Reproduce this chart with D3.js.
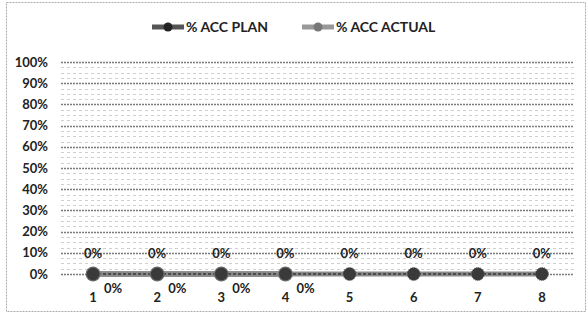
<!DOCTYPE html>
<html>
<head>
<meta charset="utf-8">
<script src="https://cdn.jsdelivr.net/npm/d3@7"></script>
<style>
  body { margin: 0; background: #fff; }
  text { font-family: Lato, "Open Sans", sans-serif; font-weight: bold; fill: #222; }
</style>
</head>
<body>
<div class="chart"></div>
<script>
// Chart data
var months = ["1", "2", "3", "4", "5", "6", "7", "8"];
var accPlan = [0, 0, 0, 0, 0, 0, 0, 0];
var accActual = [0, 0, 0, 0];
var yTicks = [0, 0.1, 0.2, 0.3, 0.4, 0.5, 0.6, 0.7, 0.8, 0.9, 1.0];
var seriesNames = ["% ACC PLAN", "% ACC ACTUAL"];

var svgWidth = 588;
var svgHeight = 314;
var margin = { top: 62, right: 14, bottom: 40, left: 61 };
var width = svgWidth - margin.left - margin.right;
var height = svgHeight - margin.top - margin.bottom;

var svg = d3.select(".chart")
  .append("svg")
  .attr("width", svgWidth)
  .attr("height", svgHeight);

// Outer frame (scanned border)
svg.append("rect")
  .attr("x", 6.5).attr("y", 2.5)
  .attr("width", 579).attr("height", 309)
  .attr("fill", "none")
  .attr("stroke", "#aaa")
  .attr("stroke-dasharray", "2,1");

var chartGroup = svg.append("g")
  .attr("transform", `translate(${margin.left}, ${margin.top})`);

var xScale = d3.scaleBand().domain(months).range([0, width]);
var yScale = d3.scaleLinear().domain([0, 1]).range([height, 0]);
var xPos = d => xScale(d) + xScale.bandwidth() / 2;
var pct = d3.format(".0%");

// Faint texture lines between gridlines (scan noise)
var minor = d3.range(0, 100, 2.5).map(v => v / 100).filter(v => Math.round(v * 1000) % 100 !== 0);
chartGroup.selectAll(".minor")
  .data(minor)
  .enter()
  .append("line")
  .attr("x1", 0).attr("x2", width)
  .attr("y1", d => Math.round(yScale(d)) + 0.5)
  .attr("y2", d => Math.round(yScale(d)) + 0.5)
  .attr("stroke", "#cfcfcf")
  .attr("stroke-dasharray", "3,3");

// Gridlines
chartGroup.selectAll(".grid")
  .data(yTicks)
  .enter()
  .append("line")
  .attr("x1", 0).attr("x2", width)
  .attr("y1", d => Math.round(yScale(d)) + 0.5)
  .attr("y2", d => Math.round(yScale(d)) + 0.5)
  .attr("stroke", "#7a7a7a")
  .attr("stroke-width", 1.4)
  .attr("stroke-dasharray", "2,1");

// Y axis
var leftAxis = d3.axisLeft(yScale)
  .tickValues(yTicks)
  .tickFormat(pct)
  .tickSize(0)
  .tickPadding(13);
chartGroup.append("g")
  .call(leftAxis)
  .call(g => g.select(".domain").remove())
  .selectAll("text")
  .attr("font-size", "13px")
  .attr("font-family", "Lato, sans-serif");

// X axis
var bottomAxis = d3.axisBottom(xScale).tickSize(0).tickPadding(19);
chartGroup.append("g")
  .attr("transform", `translate(0, ${height})`)
  .call(bottomAxis)
  .call(g => g.select(".domain").remove())
  .selectAll("text")
  .attr("font-size", "13px")
  .attr("font-family", "Lato, sans-serif");

var line = d3.line().x((d, i) => xPos(months[i])).y(d => yScale(d));

// Actual series (underneath)
chartGroup.append("path")
  .datum(accActual)
  .attr("d", line)
  .attr("fill", "none")
  .attr("stroke", "#999")
  .attr("stroke-width", 6);

// Plan series
chartGroup.append("path")
  .datum(accPlan)
  .attr("d", line)
  .attr("fill", "none")
  .attr("stroke", "#8a8a8a")
  .attr("stroke-width", 5);
chartGroup.append("path")
  .datum(accPlan)
  .attr("d", line)
  .attr("fill", "none")
  .attr("stroke", "#4a4a4a")
  .attr("stroke-width", 2)
  .attr("stroke-dasharray", "3,2");

chartGroup.selectAll(".actualDot")
  .data(accActual)
  .enter()
  .append("circle")
  .attr("cx", (d, i) => xPos(months[i]))
  .attr("cy", d => yScale(d))
  .attr("r", 7.5)
  .attr("fill", "#777");

chartGroup.selectAll(".planDot")
  .data(accPlan)
  .enter()
  .append("circle")
  .attr("cx", (d, i) => xPos(months[i]))
  .attr("cy", d => yScale(d))
  .attr("r", 6.5)
  .attr("fill", "#3a3a3a")
  .attr("stroke", "#666")
  .attr("stroke-width", 1)
  .attr("stroke-dasharray", "1,1");

// Data labels
chartGroup.selectAll(".planLabel")
  .data(accPlan)
  .enter()
  .append("text")
  .attr("x", (d, i) => xPos(months[i]))
  .attr("y", d => yScale(d) - 16)
  .attr("text-anchor", "middle")
  .attr("font-size", "13px")
  .attr("font-weight", "normal")
  .text(d => pct(d));

chartGroup.selectAll(".actualLabel")
  .data(accActual)
  .enter()
  .append("text")
  .attr("x", (d, i) => xPos(months[i]) + 11)
  .attr("y", d => yScale(d) + 19)
  .attr("font-size", "13px")
  .attr("font-weight", "normal")
  .text(d => pct(d));

// Legend
var legend = svg.append("g").attr("transform", "translate(152, 27)");
var legendX = [0, 150];
seriesNames.forEach(function(name, i) {
  var g = legend.append("g").attr("transform", `translate(${legendX[i]}, 0)`);
  g.append("line")
    .attr("x1", 0).attr("x2", 32).attr("y1", 0).attr("y2", 0)
    .attr("stroke", i === 0 ? "#555" : "#999")
    .attr("stroke-width", 5);
  g.append("circle")
    .attr("cx", 16).attr("cy", 0).attr("r", 4.5)
    .attr("fill", i === 0 ? "#222" : "#777");
  g.append("text")
    .attr("x", 34).attr("y", 5)
    .attr("font-size", "14px")
    .attr("font-weight", "normal")
    .text(name);
});
</script>
</body>
</html>
